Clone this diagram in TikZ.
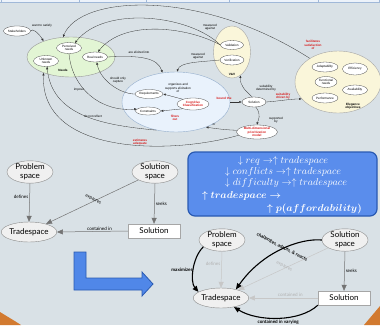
\documentclass[tikz,border=0pt]{standalone}
\usepackage{bm}
\usepackage{fontspec}
\setsansfont{Liberation Sans}
\newfontfamily\gillface{Lato}
\usetikzlibrary{shapes.geometric,arrows.meta,positioning}

\definecolor{slidebg}{RGB}{217,225,230}
\definecolor{needgreen}{RGB}{226,245,212}
\definecolor{reqblue}{RGB}{233,242,252}
\definecolor{reqedge}{RGB}{150,175,205}
\definecolor{vvbeige}{RGB}{250,246,218}
\definecolor{conred}{RGB}{215,25,25}
\definecolor{boxblue}{RGB}{90,141,236}
\definecolor{boxedge}{RGB}{42,90,178}
\definecolor{arrowblue}{RGB}{80,135,232}
\definecolor{cornerorange}{RGB}{210,122,48}
\definecolor{bubble}{RGB}{240,240,240}
\definecolor{stripfill}{RGB}{236,242,250}
\definecolor{stripline}{RGB}{160,184,216}

\tikzset{every picture/.style={line width=0.4pt}}

\begin{document}
\begin{tikzpicture}[x=1pt,y=1pt,yscale=-1,
    cmap/.style={font=\sffamily\fontsize{3.1}{3.5}\selectfont, align=center},
    concept/.style={cmap, ellipse, draw=black!70, fill=white, inner sep=0pt, line width=0.3pt},
    region/.style={ellipse, draw=black!40, inner sep=0pt},
    link/.style={draw=black!80, line width=0.3pt, -{Latex[length=2.6pt,width=2.2pt]}},
    linklabel/.style={cmap, inner sep=0.5pt},
    redlabel/.style={linklabel, text=conred, font=\sffamily\bfseries\fontsize{3.1}{3.5}\selectfont},
    space/.style={ellipse, draw=black!45, fill=bubble, inner sep=0pt, align=center,
        font=\gillface\fontsize{8}{8.6}\selectfont, minimum width=46pt, minimum height=22pt},
    tradebox/.style={space, minimum width=44pt, minimum height=20pt},
    solbox/.style={rectangle, draw=black!35, fill=white, inner sep=0pt,
        font=\gillface\fontsize{8}{8.6}\selectfont, minimum width=52pt, minimum height=14pt},
    flow/.style={draw=black!55, line width=0.5pt, -{Triangle[length=6pt,width=5pt]}},
    faint/.style={flow, draw=black!22},
    strong/.style={draw=black, line width=1.1pt, -{Triangle[length=6pt,width=5pt]}},
    edgetext/.style={font=\gillface\fontsize{4.6}{5}\selectfont, inner sep=1pt},
    boldtext/.style={font=\gillface\bfseries\fontsize{4.6}{5}\selectfont, inner sep=1pt},
    mathline/.style={text=white, font=\fontsize{10.2}{12}\selectfont, inner sep=0pt}]

\useasboundingbox (0,0) rectangle (380,325);
\fill[slidebg] (0,0) rectangle (380,325);

%table strip along the top
\fill[stripfill] (0,0) rectangle (380,2.6);
\draw[stripline] (0,2.6) -- (380,2.6);
\foreach \xs in {1,79,146,229,318,379}
    \draw[stripline] (\xs,0) -- (\xs,2.6);

%orange corners
\fill[cornerorange] (0,312) .. controls (8,317) and (15,321) .. (21,325) -- (0,325) -- cycle;
\fill[cornerorange] (364,325) .. controls (369,319) and (375,312) .. (380,306) -- (380,325) -- cycle;

%Concept map: regions
\node[region, fill=needgreen, minimum width=88pt, minimum height=40pt] (needs) at (71,57) {};
\node[cmap, font=\sffamily\bfseries\fontsize{3.1}{3.5}\selectfont] (needsName) at (63,70) {Needs};
\node[region, draw=reqedge, fill=reqblue, minimum width=108pt, minimum height=60pt] (reqzone) at (176,102) {};
\node[region, draw=black!35, fill=vvbeige, minimum width=37pt, minimum height=52pt] (vv) at (232,52) {};
\node[cmap, font=\sffamily\bfseries\fontsize{3.1}{3.5}\selectfont] (vvName) at (232,74) {V\&V};
\node[region, draw=black!35, fill=vvbeige, minimum width=86pt, minimum height=62pt] (eleg) at (338,82) {};
\node[cmap, font=\sffamily\bfseries\fontsize{3.1}{3.5}\selectfont] (elegName) at (353,106) {Elegance\\objectives};

%Concept map: concepts
\node[concept, minimum width=27pt, minimum height=10pt] (stake) at (17,31) {Stakeholders};
\node[concept, minimum width=25pt, minimum height=11pt] (perc) at (69,48) {Perceived\\needs};
\node[concept, minimum width=25pt, minimum height=11pt] (unk) at (46,61) {Unknown\\needs};
\node[concept, minimum width=25pt, minimum height=10pt] (real) at (95,57) {Real needs};
\node[concept, minimum width=28pt, minimum height=9pt] (req) at (149,94) {Requirements};
\node[concept, minimum width=25pt, minimum height=8pt] (cons) at (148,111) {Constraints};
\node[concept, text=conred, font=\sffamily\bfseries\fontsize{3.1}{3.5}\selectfont,
      minimum width=32pt, minimum height=12pt] (cogn) at (193,104) {Cognitive\\Classification};
\node[concept, minimum width=23pt, minimum height=9pt] (valid) at (232,45) {Validation};
\node[concept, minimum width=24pt, minimum height=10pt] (verif) at (232,60) {Verification};
\node[concept, minimum width=24pt, minimum height=10pt] (sol) at (254,102) {Solution};
\node[concept, text=conred, font=\sffamily\bfseries\fontsize{3.1}{3.5}\selectfont,
      minimum width=41pt, minimum height=14pt] (mdpm) at (257,132) {Multi-dimensional\\prioritization\\model};
\node[concept, minimum width=26pt, minimum height=10pt] (adapt) at (325,67) {Adaptability};
\node[concept, minimum width=25pt, minimum height=12pt] (effic) at (355,69) {Efficiency};
\node[concept, minimum width=22pt, minimum height=11pt] (func) at (326,82) {Functional\\needs};
\node[concept, minimum width=25pt, minimum height=10pt] (avail) at (355,90) {Availability};
\node[concept, minimum width=26pt, minimum height=10pt] (perf) at (325,98) {Performance};

%Concept map: links
\draw[link] (stake.east) .. controls (32,28) and (38,32) .. (needs.150);
\node[linklabel] (lbWant) at (42,26) {want to satisfy};
\draw[link] (eleg.140) .. controls (200,-12) and (80,-5) .. (needs.112);
\node[redlabel] (lbFacil) at (313,45) {facilitates\\satisfaction\\of};
\draw[link] (valid.west) .. controls (190,15) and (105,5) .. (perc.40);
\draw[link] (valid.west) .. controls (190,28) and (125,18) .. (real.60);
\node[linklabel] (lbMeasA) at (210,27) {measured\\against};
\draw[link] (verif.west) .. controls (200,62) and (180,62) .. (reqzone.88);
\node[linklabel] (lbMeasB) at (198,56) {measured\\against};
\draw[link] (real.east) .. controls (140,55) and (158,58) .. (reqzone.115);
\node[linklabel] (lbElicit) at (139,52) {are elicited into};
\draw[link] (req.west) .. controls (120,94) and (100,80) .. (real.-70);
\node[linklabel] (lbCapture) at (118,80) {should only\\capture};
\draw[link] (perc.south) .. controls (72,88) and (100,112) .. (cons.170);
\node[linklabel] (lbImpose) at (79,90) {impose};
\draw[link] (reqzone.235) .. controls (100,125) and (52,115) .. (unk.-80);
\node[linklabel] (lbReflect) at (93,116) {do not reflect};
\draw[link] (cogn.155) -- (req.east);
\node[linklabel] (lbOrganize) at (178,88) {organizes and\\supports elicitation\\of};
\draw[link] (cogn.205) -- (cons.east);
\node[redlabel] (lbFilter) at (175,118) {filters\\out};
\draw[link] (reqzone.east) -- (sol.west);
\node[redlabel] (lbBound) at (224,98) {bound the};
\draw[link] (sol.110) .. controls (245,90) and (240,86) .. (vv.-70);
\node[linklabel] (lbDetermined) at (266,88) {suitability\\determined by};
\draw[link] (sol.east) .. controls (280,101) and (290,99) .. (eleg.205);
\node[redlabel] (lbDriven) at (283,96) {suitability\\driven by};
\draw[link] (sol.-70) .. controls (262,115) and (258,120) .. (mdpm.north);
\node[linklabel] (lbSupported) at (276,120) {supported\\by};
\draw[link] (mdpm.175) .. controls (225,130) and (212,128) .. (reqzone.-40);
\node[linklabel] (lbOr) at (214,125) {or};
\draw[link] (mdpm.190) .. controls (170,155) and (40,155) .. (needs.210);
\node[redlabel] (lbEstimate) at (140,142) {estimates\\adequate};

%Tradespace diagram, before
\node[space] (probA) at (30,172) {Problem\\space};
\node[space] (solspA) at (155,172) {Solution\\space};
\node[tradebox] (tradeA) at (29,232) {Tradespace};
\node[solbox] (solA) at (154,231) {Solution};
\draw[flow] (probA.south) -- node[edgetext, left, pos=0.35] (lbDefA) {defines} (tradeA.north);
\draw[flow] (solspA) -- node[edgetext, sloped, above, inner sep=0.5pt] (lbExpA) {explores} (tradeA);
\draw[flow] (solspA.south) -- node[edgetext, right, pos=0.5] (lbSeekA) {seeks} (solA.north);
\draw[flow] (solA.west) -- node[edgetext, above, pos=0.4] (lbContA) {contained in} (tradeA.east);

%bent arrow
\draw[boxedge, fill=arrowblue, line width=0.8pt] (74,252) -- (86,252) -- (86,278) -- (142,278)
    -- (142,272) -- (153,284) -- (142,296) -- (142,290) -- (74,290) -- cycle;

%affordability box
\node[draw=boxedge, fill=boxblue, rounded corners=7pt, line width=1.2pt,
      minimum width=189pt, minimum height=64pt] (affBox) at (282.5,184) {};
\node[mathline] (lnReq) at (283,160.5) {$\downarrow req \rightarrow\uparrow tradespace$};
\node[mathline] (lnConf) at (283,171.8) {$\downarrow conflicts \rightarrow\uparrow tradespace$};
\node[mathline] (lnDiff) at (286,183.2) {$\downarrow difficulty \rightarrow\uparrow tradespace$};
\node[mathline, anchor=west] (lnTrade) at (202,196) {$\bm{\uparrow tradespace \rightarrow}$};
\node[mathline, anchor=east] (lnAfford) at (362,209) {$\bm{\uparrow p(affordability)}$};

%Tradespace diagram, after
\node[space] (probB) at (222,240) {Problem\\space};
\node[space] (solspB) at (345,240) {Solution\\space};
\node[tradebox] (tradeB) at (221,298) {Tradespace};
\node[solbox] (solB) at (344,298) {Solution};
\draw[faint] (probB.south) -- node[edgetext, text=black!30, left, pos=0.35] (lbDefB) {defines} (tradeB.north);
\draw[faint] (solspB) -- node[edgetext, text=black!30, sloped, above, inner sep=0.5pt] (lbExpB) {explores} (tradeB);
\draw[flow] (solspB.south) -- node[edgetext, right, pos=0.5] (lbSeekB) {seeks} (solB.north);
\draw[faint] (solB.west) -- node[edgetext, text=black!30, above, pos=0.4] (lbContB) {contained in} (tradeB.east);
\draw[strong] (probB.200) .. controls (192,258) and (190,282) .. (tradeB.165);
\node[boldtext] (lbMax) at (182,270) {maximizes};
\draw[strong] (solspB.west) .. controls (300,238) and (262,252) .. node[boldtext, sloped, above, pos=0.5, inner sep=0.6pt] (lbChal) {challenges, adapts, \& reacts} (tradeB.30);
\draw[strong] (solB.south west) .. controls (300,322) and (258,322) .. node[boldtext, below, pos=0.5] (lbVary) {contained in varying} (tradeB.-35);

\end{tikzpicture}
\end{document}
